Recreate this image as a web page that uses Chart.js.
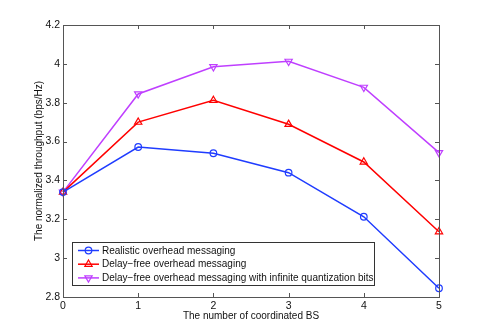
<!DOCTYPE html>
<html>
<head>
<meta charset="utf-8">
<script src="https://cdn.jsdelivr.net/npm/chart.js@4/dist/chart.umd.min.js"></script>
<style>
  html, body { margin: 0; padding: 0; background: #fff; }
  #wrap { width: 485px; height: 334px; }
</style>
</head>
<body>
<div id="wrap"><canvas id="myChart" width="485" height="334"></canvas></div>
<script>
// data
const bsCount = [0, 1, 2, 3, 4, 5];
const realistic = [3.34, 3.572, 3.54, 3.44, 3.213, 2.845];
const delayFree = [3.34, 3.70, 3.812, 3.689, 3.495, 3.136];
const infiniteBits = [3.34, 3.845, 3.985, 4.013, 3.879, 3.543];
const xTicks = [0, 1, 2, 3, 4, 5];
const yTicks = [2.8, 3.0, 3.2, 3.4, 3.6, 3.8, 4.0, 4.2];
const yLabels = ['2.8', '3', '3.2', '3.4', '3.6', '3.8', '4', '4.2'];

const FONT = 'Liberation Sans, Arial, sans-serif';
const AXIS = '#555';
const NONE = 'rgba(0,0,0,0)';

const toXY = (vals) => vals.map((v, i) => ({ x: bsCount[i], y: v }));

// inward ticks on all four sides + box
const boxTicks = {
    id: 'boxTicks',
    afterDraw(chart) {
        const { ctx, chartArea: a, scales } = chart;
        ctx.save();
        ctx.strokeStyle = AXIS;
        ctx.lineWidth = 1;
        ctx.beginPath();
        xTicks.forEach(t => {
            const x = Math.round(scales.x.getPixelForValue(t)) + 0.5;
            ctx.moveTo(x, a.bottom); ctx.lineTo(x, a.bottom - 4);
            ctx.moveTo(x, a.top); ctx.lineTo(x, a.top + 4);
        });
        yTicks.forEach(t => {
            const y = Math.round(scales.y.getPixelForValue(t)) + 0.5;
            ctx.moveTo(a.left, y); ctx.lineTo(a.left + 4, y);
            ctx.moveTo(a.right, y); ctx.lineTo(a.right - 4, y);
        });
        ctx.stroke();
        ctx.strokeRect(Math.round(a.left) + 0.5, Math.round(a.top) + 0.5,
            Math.round(a.right - a.left), Math.round(a.bottom - a.top));
        ctx.restore();
    }
};

// legend box inside the plot, lower left
const boxLegend = {
    id: 'boxLegend',
    afterDatasetsDraw(chart) {
        const { ctx, chartArea: a } = chart;
        const x0 = a.left + 9, y0 = a.bottom - 55, w = 302, h = 43;
        ctx.save();
        ctx.fillStyle = '#fff';
        ctx.fillRect(x0, y0, w, h);
        ctx.strokeStyle = '#333';
        ctx.lineWidth = 1;
        ctx.strokeRect(x0 + 0.5, y0 + 0.5, w, h);
        ctx.font = '10px ' + FONT;
        ctx.textBaseline = 'middle';
        chart.data.datasets.forEach((ds, i) => {
            const y = y0 + 8.5 + i * 13.7;
            ctx.strokeStyle = ds.borderColor;
            ctx.fillStyle = NONE;
            ctx.lineWidth = 1.5;
            ctx.beginPath();
            ctx.moveTo(x0 + 6, y); ctx.lineTo(x0 + 27, y);
            ctx.stroke();
            ctx.lineWidth = 1.2;
            Chart.helpers.drawPoint(ctx, {
                pointStyle: ds.pointStyle, rotation: ds.pointRotation || 0,
                radius: ds.pointRadius, borderWidth: 1.2
            }, x0 + 16.5, y);
            ctx.fillStyle = '#111';
            ctx.fillText(ds.label, x0 + 30, y + 0.5);
        });
        ctx.restore();
    }
};

const ctx = document.getElementById('myChart').getContext('2d');
const myChart = new Chart(ctx, {
    type: 'line',
    data: {
        datasets: [{
            label: 'Realistic overhead messaging',
            data: toXY(realistic),
            borderColor: '#1f3cff',
            pointStyle: 'circle',
            pointRadius: 3.3,
        }, {
            label: 'Delay\u2212free overhead messaging',
            data: toXY(delayFree),
            borderColor: '#ff0000',
            pointStyle: 'triangle',
            pointRadius: 4.2,
        }, {
            label: 'Delay\u2212free overhead messaging with infinite quantization bits',
            data: toXY(infiniteBits),
            borderColor: '#bf3fff',
            pointStyle: 'triangle',
            pointRotation: 180,
            pointRadius: 4.2,
        }].map(ds => Object.assign(ds, {
            backgroundColor: NONE,
            pointBackgroundColor: NONE,
            pointBorderColor: ds.borderColor,
        })),
    },
    options: {
        responsive: false,
        animation: false,
        layout: { padding: { top: 25, right: 46, left: 33, bottom: 12 } },
        elements: {
            line: { borderWidth: 1.5, tension: 0, fill: false },
            point: { borderWidth: 1.2 },
        },
        datasets: { line: { clip: false } },
        plugins: {
            legend: { display: false },
            tooltip: { enabled: false },
        },
        scales: {
            x: {
                type: 'linear',
                min: 0, max: 5,
                afterBuildTicks: (s) => { s.ticks = xTicks.map(v => ({ value: v })); },
                afterFit: (s) => { s.height = 25; },
                grid: { display: false, drawTicks: false },
                border: { display: false },
                ticks: { color: '#111', font: { family: FONT, size: 10.5 }, padding: 3, maxRotation: 0 },
                title: { display: true, text: 'The number of coordinated BS', color: '#111',
                         font: { family: FONT, size: 10 }, padding: { top: 0, bottom: 0 } },
            },
            y: {
                type: 'linear',
                min: 2.8, max: 4.2,
                afterBuildTicks: (s) => { s.ticks = yTicks.map(v => ({ value: v })); },
                afterFit: (s) => { s.width = 30; },
                grid: { display: false, drawTicks: false },
                border: { display: false },
                ticks: {
                    color: '#111', font: { family: FONT, size: 10.5 }, padding: 3,
                    callback: (v) => { const i = yTicks.findIndex(t => Math.abs(t - v) < 1e-6); return i >= 0 ? yLabels[i] : ''; },
                },
                title: { display: true, text: 'The normalized throughput (bps/Hz)', color: '#111',
                         font: { family: FONT, size: 10 }, padding: { top: 0, bottom: 0 } },
            },
        },
    },
    plugins: [boxTicks, boxLegend],
});
</script>
</body>
</html>
